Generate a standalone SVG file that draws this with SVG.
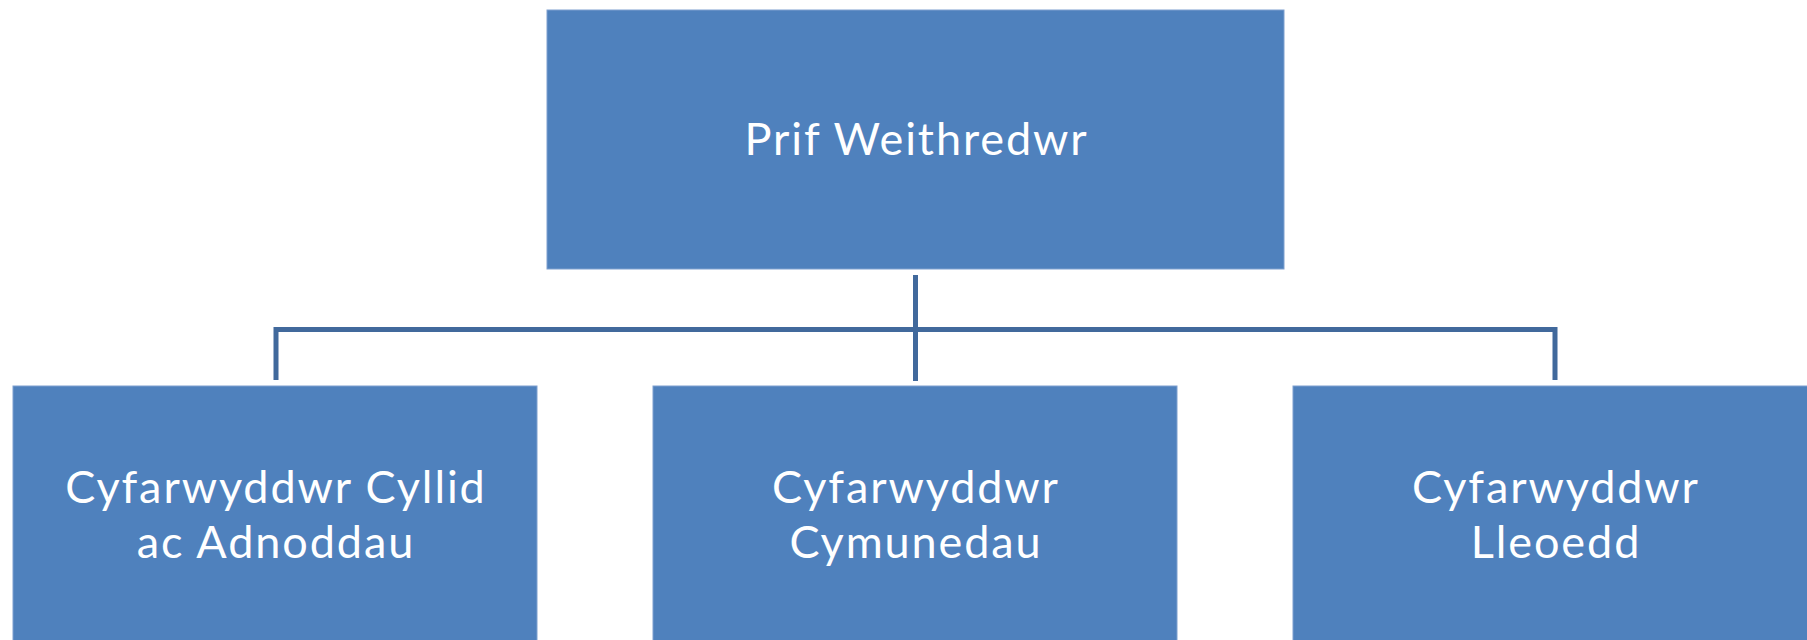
<svg xmlns="http://www.w3.org/2000/svg" width="1807" height="640" viewBox="0 0 1807 640">
<style>
.box{fill:#4F81BD;stroke:#7FA0CF;stroke-width:1}
.lbl{fill:#FFFFFF;font-family:Lato,"Open Sans",sans-serif;font-size:45px;letter-spacing:1.9px;text-anchor:middle}
.con{fill:none;stroke:#41699C;stroke-width:5}
</style>
<rect width="1807" height="640" fill="#FFFFFF"/>
<g id="connectors">
<path class="con" d="M915.5,275 V381"/>
<path class="con" d="M276,380 V329.5 H1555 V380"/>
</g>
<g id="ceo">
<rect class="box" x="547" y="10" width="737" height="259"/>
<text class="lbl" x="916.5" y="155">Prif Weithredwr</text>
</g>
<g id="cyllid">
<rect class="box" x="13" y="386" width="524" height="260"/>
<text class="lbl" x="276" y="503">Cyfarwyddwr Cyllid</text>
<text class="lbl" x="276" y="558">ac Adnoddau</text>
</g>
<g id="cymunedau">
<rect class="box" x="653" y="386" width="524" height="260"/>
<text class="lbl" x="916" y="503">Cyfarwyddwr</text>
<text class="lbl" x="916" y="558">Cymunedau</text>
</g>
<g id="lleoedd">
<rect class="box" x="1293" y="386" width="524" height="260"/>
<text class="lbl" x="1556" y="503">Cyfarwyddwr</text>
<text class="lbl" x="1556" y="558">Lleoedd</text>
</g>
</svg>
